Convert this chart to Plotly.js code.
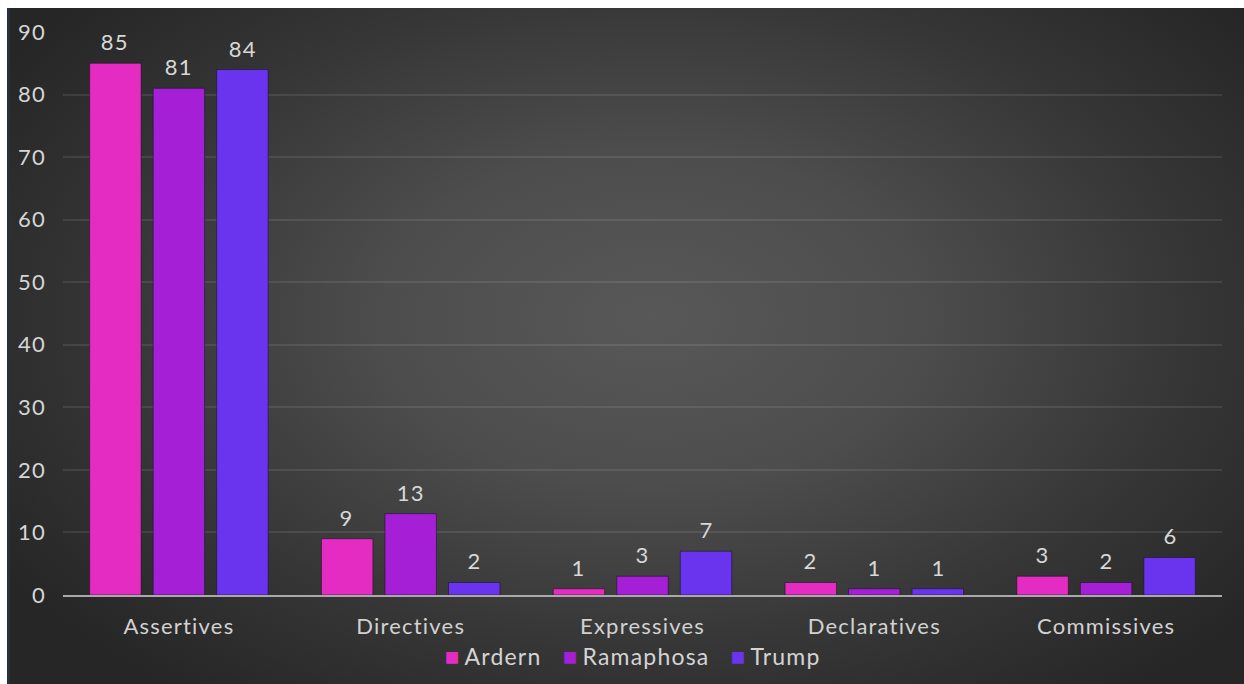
<!DOCTYPE html>
<html>
<head>
<meta charset="utf-8">
<script src="https://cdn.plot.ly/plotly-3.0.1.min.js"></script>
<style>
  html, body { margin: 0; padding: 0; background: #ffffff; }
  #wrap { position: relative; width: 1244px; height: 684px; overflow: hidden; }
  #bg {
    position: absolute; left: 7px; top: 8px; width: 1237px; height: 676px;
    background: radial-gradient(ellipse 62% 70% at 52% 46%, #585858 0%, #4d4d4d 35%, #363636 70%, #262626 100%);
    border-left: 3px solid #283040;
    box-sizing: border-box;
  }
  #chart { position: absolute; left: 0; top: 0; width: 1244px; height: 684px; }
  #chart svg text { letter-spacing: 1.2px; }
</style>
</head>
<body>
<div id="wrap">
  <div id="bg"></div>
  <div id="chart"></div>
</div>
<script>
// Speech-act categories and counts per speaker
const categories = ['Assertives', 'Directives', 'Expressives', 'Declaratives', 'Commissives'];
const seriesNames = ['Ardern', 'Ramaphosa', 'Trump'];
const ardern    = [85, 9, 1, 2, 3];
const ramaphosa = [81, 13, 3, 1, 2];
const trump     = [84, 2, 7, 1, 6];
const yTicks    = [0, 10, 20, 30, 40, 50, 60, 70, 80, 90];

const seriesValues = [ardern, ramaphosa, trump];
const seriesColors = ['#e52cc2', '#a51fd6', '#6a34ee'];
const fontFamily = 'Lato, "Open Sans", sans-serif';
const labelFont = { family: fontFamily, size: 22, color: '#d8d8d8' };

const traces = seriesNames.map((name, i) => ({
  type: 'bar',
  name: name,
  x: categories,
  y: seriesValues[i],
  marker: { color: seriesColors[i], line: { color: 'rgba(20,20,30,0.55)', width: 1 } },
  hoverinfo: 'x+y+name',
  showlegend: false
}));

// value labels above each bar, offset to each bar's slot in the group
const slotPx = 64;
const annotations = [];
seriesValues.forEach((vals, i) => {
  vals.forEach((v, j) => {
    annotations.push({
      x: categories[j], y: v, xref: 'x', yref: 'y',
      text: String(v), showarrow: false,
      xshift: (i - 1) * slotPx, yanchor: 'bottom', yshift: 6,
      font: labelFont
    });
  });
});

// legend row built from the series names and colours
const legendText = seriesNames.map((n, i) =>
  '<span style="color:' + seriesColors[i] + ';font-size:24px">\u25A0</span>\u2009' + n
).join('\u00a0\u00a0\u00a0');
annotations.push({
  x: 0.491, y: -0.107, xref: 'paper', yref: 'paper',
  xanchor: 'center', yanchor: 'middle', showarrow: false,
  text: legendText, font: { family: fontFamily, size: 23, color: '#d4d4d4' }
});

const layout = {
  width: 1244, height: 684,
  margin: { l: 63, r: 22, t: 32, b: 89 },
  paper_bgcolor: 'rgba(0,0,0,0)',
  plot_bgcolor: 'rgba(0,0,0,0)',
  barmode: 'group',
  bargap: 0.178,
  bargroupgap: 0.19,
  font: labelFont,
  showlegend: false,
  xaxis: {
    type: 'category',
    showgrid: false,
    showline: true, linecolor: '#a9a9a9', linewidth: 2,
    ticks: '',
    ticklabelstandoff: 11,
    tickfont: { family: fontFamily, size: 22, color: '#d2d2d2' }
  },
  yaxis: {
    range: [0, 90],
    tickvals: yTicks,
    showgrid: true, gridcolor: 'rgba(255,255,255,0.09)', gridwidth: 2,
    zeroline: false,
    showline: false,
    ticks: '',
    ticklabelstandoff: 16,
    tickfont: { family: fontFamily, size: 22, color: '#d6d6d6' }
  },
  annotations: annotations
};

Plotly.newPlot('chart', traces, layout, { displayModeBar: false, staticPlot: true });
</script>
</body>
</html>
